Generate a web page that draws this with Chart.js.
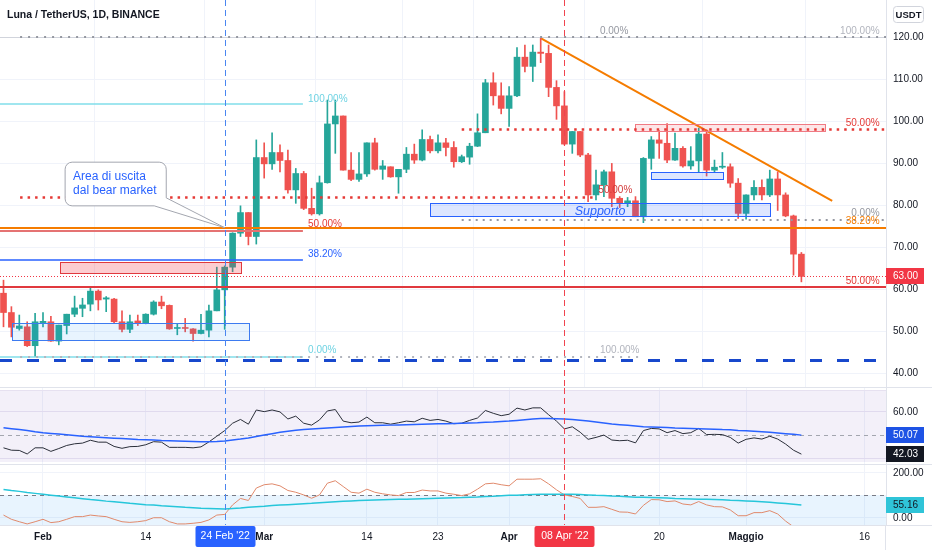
<!DOCTYPE html>
<html><head><meta charset="utf-8"><title>Luna / TetherUS, 1D, BINANCE</title>
<script src="https://cdn.jsdelivr.net/npm/chart.js@4.4.1/dist/chart.umd.min.js"></script>
<style>
html,body{margin:0;padding:0;background:#fff;overflow:hidden}
#wrap{position:relative;width:932px;height:550px;background:#fff}
#wrap canvas{position:absolute;left:0}
</style></head><body>
<div id="wrap">
<canvas id="cMain" width="932" height="388" style="top:0px"></canvas>
<canvas id="cRsi" width="932" height="76" style="top:388px"></canvas>
<canvas id="cCci" width="932" height="86" style="top:464px"></canvas>
</div>
<script>
// ---------- DATA (day index 0 = 27 Jan 2022) ----------
const open = [59.0,54.4,50.6,51.0,46.5,52.0,52.2,47.6,51.3,54.0,
55.4,56.4,59.5,57.6,57.6,52.2,50.4,52.4,51.8,54.0,
56.9,56.1,50.6,50.8,50.5,49.4,50.2,54.8,59.8,65.2,
73.3,78.2,72.5,91.3,89.8,92.5,90.6,83.6,87.5,79.2,
77.9,85.3,99.3,101.2,88.3,86.1,87.4,94.8,88.5,89.1,
86.7,88.5,92.1,90.7,95.6,92.9,94.8,93.7,90.3,91.4,
94.0,97.2,109.1,106.0,103.0,106.0,115.2,113.0,116.4,116.1,
108.0,103.6,94.5,97.5,91.9,82.4,84.8,87.9,81.6,80.4,
81.0,77.2,91.1,95.5,94.7,90.7,93.5,89.3,90.5,96.9,
88.3,89.0,89.1,85.2,78.0,82.4,84.2,82.4,86.2,82.4,
77.4,68.3];
const high = [62.1,55.8,53.8,52.2,54.2,54.4,53.5,51.4,54.0,58.3,
57.8,60.6,59.8,58.2,57.8,54.8,53.8,53.8,54.1,57.2,
58.3,56.2,51.8,53.0,50.6,54.0,56.2,65.2,65.5,73.4,
79.8,78.2,95.5,94.8,97.2,94.3,93.1,88.7,88.0,84.0,
86.9,105.0,105.0,101.2,92.5,92.5,94.8,95.9,90.6,89.1,
88.5,93.7,94.5,97.9,96.4,96.7,95.9,95.1,91.9,94.7,
101.7,109.9,111.5,109.1,108.2,117.5,118.1,118.1,119.7,118.1,
109.6,107.0,97.5,97.5,92.3,88.3,88.3,89.9,82.0,81.8,
82.0,91.3,96.3,97.7,99.4,97.1,93.9,93.9,98.3,97.9,
90.7,92.5,89.8,86.3,82.4,85.8,86.0,88.3,87.9,82.9,
77.6,68.7];
const low = [51.0,48.6,50.2,46.3,43.9,51.0,47.5,46.7,49.3,53.4,
53.4,54.8,55.0,54.6,52.0,49.8,49.6,51.3,51.7,53.8,
55.3,50.4,49.1,49.8,47.6,49.3,48.6,54.8,50.4,64.1,
72.5,70.5,70.7,86.4,88.5,87.9,82.8,80.4,78.9,77.6,
77.6,85.2,92.3,88.3,85.8,85.6,86.8,88.3,86.1,86.6,
82.8,87.7,89.9,90.5,92.4,92.4,91.7,89.0,90.1,89.7,
93.9,97.2,103.8,101.7,98.7,105.8,111.7,109.4,113.9,105.8,
100.4,94.3,92.3,91.5,80.8,81.2,82.0,79.6,79.4,79.6,
77.2,75.8,88.5,91.1,90.1,90.6,89.0,88.5,87.7,86.9,
87.7,88.7,84.2,76.8,76.6,81.2,81.2,82.0,78.7,77.2,
63.3,61.7];
const close = [54.4,50.9,51.2,46.5,52.2,52.3,47.6,51.4,54.0,55.5,
56.2,59.5,57.4,57.9,52.2,50.4,52.2,51.8,54.0,56.9,
56.0,50.5,50.8,50.6,49.4,50.2,54.8,59.8,65.2,73.3,
78.2,72.5,91.3,89.8,92.5,90.6,83.6,87.5,79.2,77.9,
85.3,99.3,101.2,88.3,86.1,87.4,94.8,88.5,89.3,86.7,
88.5,92.1,90.7,95.6,92.9,94.8,93.7,90.3,91.5,94.0,
97.2,109.1,106.0,103.0,106.0,115.2,113.0,116.4,116.1,108.0,
103.6,94.5,97.5,91.9,82.4,84.8,87.9,81.6,80.4,81.0,
77.2,91.1,95.5,94.7,90.7,93.5,89.3,90.5,96.9,88.3,
89.0,89.1,85.2,78.0,82.4,84.2,82.4,86.2,82.4,77.4,
68.3,63.0];
const rsi = [44.7,43.7,43.6,42.1,44.7,44.7,43.2,44.4,45.7,46.4,
46.7,47.9,47.1,47.1,45.3,44.5,45.2,45.3,46.0,47.3,
47.1,44.9,44.9,44.9,44.7,45.1,47.2,49.6,52.0,55.1,
56.7,54.7,60.7,60.0,60.7,59.9,56.9,58.1,55.1,54.3,
56.5,60.3,60.9,56.0,55.3,55.6,57.7,55.3,55.3,54.7,
55.3,56.0,55.7,57.2,56.3,56.7,56.0,54.9,55.1,56.3,
57.3,60.5,59.3,58.3,58.9,61.5,60.7,61.6,61.6,58.7,
56.0,52.7,53.6,51.3,48.3,49.1,50.1,48.0,47.7,47.9,
46.8,52.0,52.9,52.7,51.1,52.0,50.7,51.1,52.9,50.3,
50.4,50.3,49.1,46.7,48.3,48.9,48.4,49.6,48.4,46.3,
43.7,42.03];
const rsiMa = [53.2,52.8,52.4,52.0,51.5,51.1,50.8,50.5,50.2,49.9,
49.6,49.4,49.2,49.0,48.8,48.6,48.4,48.2,48.1,48.0,
47.8,47.7,47.6,47.5,47.4,47.3,47.3,47.4,47.6,48.0,
48.4,48.9,49.5,50.1,50.7,51.3,51.7,52.1,52.4,52.7,
52.9,53.1,53.3,53.5,53.7,53.9,54.0,54.1,54.2,54.3,
54.4,54.5,54.6,54.7,54.8,54.9,54.9,55.0,55.1,55.2,
55.3,55.5,55.6,55.8,56.0,56.3,56.6,56.9,57.1,57.1,
57.0,56.9,56.7,56.4,56.0,55.6,55.2,54.8,54.5,54.2,
53.9,53.6,53.5,53.4,53.3,53.1,53.0,52.9,52.8,52.7,
52.6,52.4,52.3,52.0,51.9,51.7,51.5,51.3,51.0,50.7,
50.4,50.07];
const cci = [10,-9,-20,-30,-20,-9,-24,-20,-9,3,
3,10,6,3,-9,-20,-23,-20,-15,-2,
-2,-20,-30,-30,-27,-23,-12,10,13,56,
85,76,132,147,151,142,121,113,101,86,
101,154,165,139,113,109,127,113,106,101,
98,112,112,123,119,119,109,104,98,106,
127,151,154,147,142,172,172,172,174,151,
124,101,94,85,45,45,48,36,24,23,
15,54,80,79,71,74,60,56,71,56,
48,47,33,7,7,21,21,30,15,-17,
-43,-73];
const cciMa = [126,121,117,112,108,104,100,96,92,88,
84,80,77,73,70,67,63,60,57,55,
52,50,48,45,43,41,40,39,38,40,
42,45,48,50,53,55,57,59,61,63,
66,68,70,72,74,76,77,78,79,80,
81,82,83,84,85,86,87,88,89,91,
92,94,95,97,99,100,102,103,104,104,
104,104,104,103,101,99,98,96,95,93,
91,90,89,88,87,85,84,83,82,81,
80,79,77,76,74,72,70,68,65,62,
59,55.16];
// time-axis ticks (day index) and their labels
const tickDays = [5,18,33,46,55,64,83,94,109];
const tickText = ['Feb','14','Mar','14','23','Apr','20','Maggio','16'];
const markDays = [28,71];
const markText = ["24 Feb '22","08 Apr '22"];
const priceTicks = [40,50,60,70,80,90,100,110,120];
const rsiTicks = [40,60];
const cciTicks = [0,200];
// orange trend line end points (day index, price)
const trendX = [68.05,104.9];
const trendY = [119.7,81.0];

// ---------- STYLE / LAYOUT ----------
const FONT = "'Liberation Sans', Arial, sans-serif";
const GREEN = '#26a69a', RED = '#ef5350', GRID = '#f0f3fa', AXIS = '#e0e3eb', TXT = '#131722';
const X_MIN = -0.443, X_MAX = 111.71;
const markColors = ['#4a86f0','#f0444f'];
const markBg = ['#2962ff','#f23645'];

// drawings in data units (day index / price)
const zones = [
  {x0:79.9,x1:104,lo:97.6,hi:99.3,fill:'rgba(242,54,69,0.13)',stroke:'#f07a84'},
  {x0:54,x1:97,lo:77.4,hi:80.5,fill:'rgba(41,98,255,0.16)',stroke:'#2962ff'},
  {x0:82,x1:91.1,lo:86.3,hi:87.9,fill:'rgba(41,98,255,0.16)',stroke:'#2962ff'},
  {x0:7.2,x1:30.1,lo:63.8,hi:66.4,fill:'rgba(242,54,69,0.25)',stroke:'#e0393e'},
  {x0:1.1,x1:31.1,lo:47.9,hi:51.9,fill:'rgba(33,150,243,0.10)',stroke:'#3d7bf0'}
];
const L = X_MIN, R = X_MAX;
const levels = [
  {v:120,a:L,b:R,c:'#d1d4dc',w:1},
  {v:120,a:2.1,b:R,c:'#9598a1',w:2,d:[2,6]},
  {v:104.05,a:L,b:37.9,c:'#80deea',w:1.5},
  {v:98.1,a:58,b:R,c:'#e53935',w:2.5,d:[2.5,5]},
  {v:81.9,a:2.1,b:75.1,c:'#e53935',w:2.5,d:[2.5,5]},
  {v:76.4,a:58,b:R,c:'#9598a1',w:2,d:[2,5]},
  {v:74.55,a:L,b:R,c:'#f57c00',w:2},
  {v:73.8,a:L,b:37.9,c:'#e57373',w:2},
  {v:66.9,a:L,b:37.9,c:'#2962ff',w:1.5},
  {v:63.0,a:L,b:R,c:'#f23645',w:1,d:[1,2]},
  {v:60.5,a:L,b:R,c:'#e0393e',w:2},
  {v:43.9,a:L,b:37.9,c:'#80deea',w:1.5},
  {v:43.9,a:2.1,b:80.6,c:'#b2b5be',w:2,d:[2,6]},
  {v:43.1,a:L,b:R,c:'#1848cc',w:3,d:[12,15]}
];
const notes = [
  {t:'0.00%',x:75.5,y:121.4,c:'#9598a1'},
  {t:'100.00%',x:110.9,y:121.4,c:'#b2b5be',al:'right'},
  {t:'100.00%',x:38.55,y:105.2,c:'#6fd3e3'},
  {t:'50.00%',x:110.9,y:99.5,c:'#e53935',al:'right'},
  {t:'50.00%',x:75.3,y:83.6,c:'#d33a3a'},
  {t:'Supporto',x:72.3,y:78.4,c:'#2962ff',f:'italic 12.5px '+FONT},
  {t:'0.00%',x:110.9,y:78.1,c:'#9598a1',al:'right'},
  {t:'38.20%',x:110.9,y:76.2,c:'#f57c00',al:'right'},
  {t:'50.00%',x:38.55,y:75.5,c:'#e53935'},
  {t:'38.20%',x:38.55,y:68.3,c:'#2962ff'},
  {t:'50.00%',x:110.9,y:61.9,c:'#e53935',al:'right'},
  {t:'0.00%',x:38.55,y:45.5,c:'#6fd3e3'},
  {t:'100.00%',x:75.5,y:45.5,c:'#b2b5be'}
];
const callout = {x0:7.8,x1:20.6,top:90.2,bottom:79.8,tipX:28,tipY:74.6,
  lines:['Area di uscita','dal bear market']};

// ---------- helpers ----------
function txt(ctx,s,x,y,color,font,align){ctx.font=font||('10px '+FONT);ctx.fillStyle=color;ctx.textAlign=align||'left';ctx.textBaseline='middle';ctx.fillText(s,x,y);}
function hline(ctx,y,x0,x1,color,w,dash){ctx.save();ctx.strokeStyle=color;ctx.lineWidth=w;ctx.setLineDash(dash||[]);const yy=(Math.round(w)%2===1)?Math.round(y)+0.5:Math.round(y);ctx.beginPath();ctx.moveTo(x0,yy);ctx.lineTo(x1,yy);ctx.stroke();ctx.restore();}
function vline(ctx,x,y0,y1,color,w,dash){ctx.save();ctx.strokeStyle=color;ctx.lineWidth=w;ctx.setLineDash(dash||[]);const xx=Math.round(x)+0.5;ctx.beginPath();ctx.moveTo(xx,y0);ctx.lineTo(xx,y1);ctx.stroke();ctx.restore();}
function valueBox(ctx,x,y,s,bg,fg){ctx.fillStyle=bg;ctx.fillRect(x,Math.round(y)-8,38,16);txt(ctx,s,x+7,Math.round(y)+0.5,fg,'10px '+FONT);}
function rrect(ctx,x,y,w,h,r){ctx.beginPath();ctx.moveTo(x+r,y);ctx.lineTo(x+w-r,y);ctx.arcTo(x+w,y,x+w,y+r,r);ctx.lineTo(x+w,y+h-r);ctx.arcTo(x+w,y+h,x+w-r,y+h,r);ctx.lineTo(x+r,y+h);ctx.arcTo(x,y+h,x,y+h-r,r);ctx.lineTo(x,y+r);ctx.arcTo(x,y,x+r,y,r);ctx.closePath();}

function xAxis(){return {type:'linear',min:X_MIN,max:X_MAX,offset:false,
  afterBuildTicks:s=>{s.ticks=tickDays.map(v=>({value:v}));},
  ticks:{display:false},grid:{color:GRID,drawTicks:false},border:{display:false}};}
function yAxis(min,max,ticks,gridColor){return {type:'linear',position:'right',min:min,max:max,
  afterBuildTicks:s=>{s.ticks=ticks.map(v=>({value:v}));},
  afterFit:s=>{s.width=46;},
  ticks:{display:false},grid:{color:gridColor||GRID,drawTicks:false},border:{display:true,color:AXIS}};}
const common = {responsive:false,animation:false,events:[],
  plugins:{legend:{display:false},tooltip:{enabled:false}}};

// ---------- main price pane ----------
const candleCol = close.map((c,i)=> c>=open[i]?GREEN:RED);
const mainDecor = {
  id:'mainDecor',
  afterDatasetsDraw(chart){
    const {ctx,chartArea:a,scales:{x,y}}=chart;
    const X=v=>x.getPixelForValue(v), Y=v=>y.getPixelForValue(v);
    ctx.save();ctx.beginPath();ctx.rect(a.left,a.top,a.right-a.left,a.bottom-a.top);ctx.clip();
    zones.forEach(z=>{const x0=Math.round(X(z.x0)),x1=Math.round(X(z.x1)),y0=Math.round(Y(z.hi)),y1=Math.round(Y(z.lo));
      ctx.fillStyle=z.fill;ctx.fillRect(x0,y0,x1-x0,y1-y0);ctx.strokeStyle=z.stroke;ctx.lineWidth=1;ctx.setLineDash([]);ctx.strokeRect(x0+0.5,y0+0.5,x1-x0,y1-y0);});
    levels.forEach(l=>hline(ctx,Y(l.v),X(l.a),X(l.b),l.c,l.w,l.d));
    markDays.forEach((d,k)=>vline(ctx,X(d),a.top,a.bottom,markColors[k],1,[6,4]));
    notes.forEach(n=>txt(ctx,n.t,X(n.x),Y(n.y),n.c,n.f,n.al));
    // callout
    const bx0=X(callout.x0),bx1=X(callout.x1),by0=Y(callout.top),by1=Y(callout.bottom),tx=X(callout.tipX),ty=Y(callout.tipY),r=7;
    ctx.beginPath();
    ctx.moveTo(bx0+r,by0);ctx.lineTo(bx1-r,by0);ctx.arcTo(bx1,by0,bx1,by0+r,r);
    ctx.lineTo(bx1,by1-8);ctx.lineTo(tx,ty);ctx.lineTo(bx1-12,by1);
    ctx.lineTo(bx0+r,by1);ctx.arcTo(bx0,by1,bx0,by1-r,r);ctx.lineTo(bx0,by0+r);ctx.arcTo(bx0,by0,bx0+r,by0,r);ctx.closePath();
    ctx.fillStyle='#ffffff';ctx.fill();ctx.strokeStyle='#a3a6af';ctx.lineWidth=1;ctx.setLineDash([]);ctx.stroke();
    callout.lines.forEach((s,k)=>txt(ctx,s,bx0+8,by0+15+k*14,'#2962ff','12px '+FONT));
    ctx.restore();
  },
  afterDraw(chart){
    const {ctx,chartArea:a,scales:{y}}=chart;
    const Y=v=>y.getPixelForValue(v);
    priceTicks.forEach(v=>txt(ctx,v.toFixed(2),a.right+7,Y(v)+0.5,TXT,'10px '+FONT));
    valueBox(ctx,a.right,Y(close[close.length-1]),close[close.length-1].toFixed(2),'#f23645','#ffffff');
    // currency badge
    ctx.save();rrect(ctx,a.right+7.5,6.5,30,16,3);ctx.fillStyle='#fff';ctx.fill();ctx.strokeStyle='#d1d4dc';ctx.lineWidth=1;ctx.stroke();ctx.restore();
    txt(ctx,'USDT',a.right+22.5,15,TXT,'bold 9.5px '+FONT,'center');
    txt(ctx,'Luna / TetherUS, 1D, BINANCE',7,15,TXT,'bold 10.5px '+FONT);
    hline(ctx,a.bottom-1,0,932,AXIS,1);
  }
};
new Chart(document.getElementById('cMain'),{
  type:'bar',
  data:{datasets:[
    {type:'bar',data:low.map((l,i)=>({x:i,y:[l,high[i]]})),backgroundColor:candleCol,barThickness:1,grouped:false,borderWidth:0},
    {type:'bar',data:open.map((o,i)=>({x:i,y:[o,close[i]]})),backgroundColor:candleCol,barThickness:6,grouped:false,minBarLength:1,borderWidth:0},
    {type:'line',data:trendX.map((t,i)=>({x:t,y:trendY[i]})),borderColor:'#f57c00',borderWidth:2,pointRadius:0}
  ]},
  options:Object.assign({},common,{
    layout:{padding:0},
    scales:{x:xAxis(),y:yAxis(36.43,128.81,priceTicks)}
  }),
  plugins:[mainDecor]
});

// ---------- RSI pane ----------
const rsiDecor = {
  id:'rsiDecor',
  beforeDatasetsDraw(chart){
    const {ctx,chartArea:a,scales:{y}}=chart;const Y=v=>y.getPixelForValue(v);
    const t=Math.round(Y(69.2)),b=Math.round(Y(38.6));
    ctx.fillStyle='rgba(126,87,194,0.09)';ctx.fillRect(a.left,t,a.right-a.left,b-t);
    hline(ctx,t,a.left,a.right,'#e6e1f0',1);
    hline(ctx,Y(50),a.left,a.right,'#a3a6af',1,[4,4]);
  },
  afterDatasetsDraw(chart){
    const {ctx,chartArea:a,scales:{x}}=chart;
    markDays.forEach((d,k)=>vline(ctx,x.getPixelForValue(d),a.top,a.bottom,markColors[k],1,[6,4]));
  },
  afterDraw(chart){
    const {ctx,chartArea:a,scales:{y}}=chart;const Y=v=>y.getPixelForValue(v);
    txt(ctx,'60.00',a.right+7,Y(60)+0.5,TXT,'10px '+FONT);
    valueBox(ctx,a.right,Y(rsiMa[rsiMa.length-1]),rsiMa[rsiMa.length-1].toFixed(2),'#1e53e5','#ffffff');
    valueBox(ctx,a.right,Y(rsi[rsi.length-1]),rsi[rsi.length-1].toFixed(2),'#131722','#ffffff');
  }
};
new Chart(document.getElementById('cRsi'),{
  type:'line',
  data:{datasets:[
    {data:rsiMa.map((v,i)=>({x:i,y:v})),borderColor:'#2962ff',borderWidth:1.5,pointRadius:0},
    {data:rsi.map((v,i)=>({x:i,y:v})),borderColor:'#2a2e39',borderWidth:1,pointRadius:0}
  ]},
  options:Object.assign({},common,{
    layout:{padding:0},
    scales:{x:xAxis(),y:yAxis(37.86,70,rsiTicks,'#ebe7f3')}
  }),
  plugins:[rsiDecor]
});

// ---------- CCI pane + time axis ----------
const cciDecor = {
  id:'cciDecor',
  beforeDatasetsDraw(chart){
    const {ctx,chartArea:a,scales:{y}}=chart;const Y=v=>y.getPixelForValue(v);
    const t=Math.round(Y(100)),b=Math.min(a.bottom,Math.round(Y(-100)));
    ctx.fillStyle='rgba(33,150,243,0.10)';ctx.fillRect(a.left,t,a.right-a.left,b-t);
    hline(ctx,Y(100),a.left,a.right,'#787b86',1,[4,4]);
  },
  afterDatasetsDraw(chart){
    const {ctx,chartArea:a,scales:{x}}=chart;
    markDays.forEach((d,k)=>vline(ctx,x.getPixelForValue(d),a.top,a.bottom,markColors[k],1,[6,4]));
  },
  afterDraw(chart){
    const {ctx,chartArea:a,scales:{x,y}}=chart;const Y=v=>y.getPixelForValue(v);
    hline(ctx,0,0,932,AXIS,1);
    hline(ctx,a.bottom,0,932,AXIS,1);
    vline(ctx,a.right-1,a.bottom,chart.height,AXIS,1);
    txt(ctx,'200.00',a.right+7,Y(200)+0.5,TXT,'10px '+FONT);
    txt(ctx,'0.00',a.right+7,Y(0)+0.5,TXT,'10px '+FONT);
    valueBox(ctx,a.right,Y(cciMa[cciMa.length-1]),cciMa[cciMa.length-1].toFixed(2),'#2fc4d8','#131722');
    const ly=a.bottom+12.5;
    tickDays.forEach((d,k)=>{const bold=isNaN(Number(tickText[k]));
      txt(ctx,tickText[k],x.getPixelForValue(d),ly,TXT,(bold?'bold ':'')+'10px '+FONT,'center');});
    markDays.forEach((d,k)=>{const cx=x.getPixelForValue(d);ctx.fillStyle=markBg[k];
      ctx.save();rrect(ctx,Math.round(cx)-29.5,a.bottom+1,60,21,2);ctx.fill();ctx.restore();
      txt(ctx,markText[k],cx+0.5,a.bottom+11.5,'#ffffff','10.5px '+FONT,'center');});
  }
};
new Chart(document.getElementById('cCci'),{
  type:'line',
  data:{datasets:[
    {data:cciMa.map((v,i)=>({x:i,y:v})),borderColor:'#26c6da',borderWidth:1.5,pointRadius:0},
    {data:cci.map((v,i)=>({x:i,y:v})),borderColor:'#e0896b',borderWidth:1,pointRadius:0}
  ]},
  options:Object.assign({},common,{
    layout:{padding:{left:0,right:0,top:0,bottom:25}},
    scales:{x:xAxis(),y:yAxis(-34.8,240.6,cciTicks)}
  }),
  plugins:[cciDecor]
});
</script></body></html>
